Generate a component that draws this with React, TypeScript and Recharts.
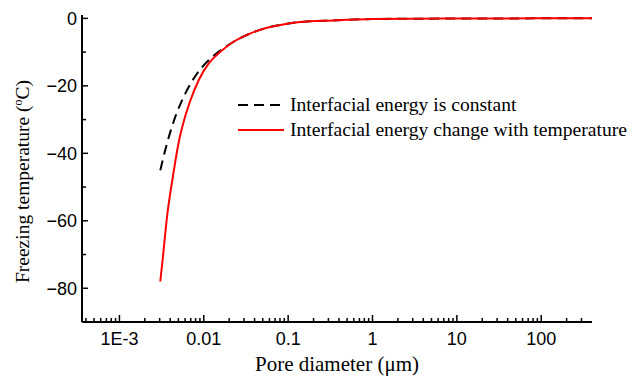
import React from 'react';
import { LineChart, Line, XAxis, YAxis, Legend } from 'recharts';

// pore diameter in µm, freezing temperature in °C
const constantDiameter = [0.00305, 0.00366, 0.00459, 0.00603, 0.0083, 0.0109, 0.0156, 0.0223, 0.0353, 0.0561, 0.0868, 0.138, 0.339, 1, 10, 100, 400];
const constantTemp = [-45, -37.1, -29.2, -22.3, -16.4, -12.9, -9.6, -7, -4.5, -2.8, -1.8, -1.1, -0.6, -0.2, -0.05, 0, 0];
const variableDiameter = [0.00305, 0.0033, 0.00366, 0.0042, 0.00459, 0.00502, 0.00575, 0.0069, 0.00866, 0.0114, 0.0156, 0.0223, 0.0353, 0.0561, 0.0868, 0.138, 0.339, 1, 10, 100, 400];
const variableTemp = [-78, -70, -59, -48.5, -42.5, -37, -30.8, -24.5, -18.4, -13.4, -10, -7, -4.5, -2.8, -1.8, -1.1, -0.6, -0.2, -0.05, 0, 0];

const xMajorTicks = [0.001, 0.01, 0.1, 1, 10, 100];
const xMinorTicks = [
  0.0004, 0.0005, 0.0006, 0.0007, 0.0008, 0.0009,
  0.002, 0.003, 0.004, 0.005, 0.006, 0.007, 0.008, 0.009,
  0.02, 0.03, 0.04, 0.05, 0.06, 0.07, 0.08, 0.09,
  0.2, 0.3, 0.4, 0.5, 0.6, 0.7, 0.8, 0.9,
  2, 3, 4, 5, 6, 7, 8, 9,
  20, 30, 40, 50, 60, 70, 80, 90,
  200, 300,
];
const xTickLabels = ['1E-3', '0.01', '0.1', '1', '10', '100'];
const yMajorTicks = [0, -20, -40, -60, -80];
const yMinorTicks = [-10, -30, -50, -70, -90];

const constantData = constantDiameter.map((d, i) => ({ d, t: constantTemp[i] }));
const variableData = variableDiameter.map((d, i) => ({ d, t: variableTemp[i] }));

const tickFont = '"Liberation Sans", Arial, sans-serif';
const titleFont = '"Liberation Serif", "Times New Roman", serif';

const XTick = (props: any) => {
  const { x, y, payload } = props;
  const idx = xMajorTicks.indexOf(payload.value);
  const major = idx >= 0;
  return (
    <g>
      <line x1={x} x2={x} y1={y} y2={y - (major ? 7 : 4)} stroke="#000" strokeWidth={1.5} />
      {major && (
        <text x={x} y={y + 23} textAnchor="middle" fontSize={18} fontFamily={tickFont} fill="#000">
          {xTickLabels[idx]}
        </text>
      )}
    </g>
  );
};

const YTick = (props: any) => {
  const { x, y, payload } = props;
  const major = yMajorTicks.includes(payload.value);
  return (
    <g>
      <line x1={x} x2={x + (major ? 6 : 4)} y1={y} y2={y} stroke="#000" strokeWidth={1.5} />
      {major && (
        <text x={x - 5} y={y} dy="0.36em" textAnchor="end" fontSize={18} fontFamily={tickFont} fill="#000">
          {String(payload.value).replace('-', '\u2212')}
        </text>
      )}
    </g>
  );
};

const YTitle = (props: any) => {
  const { viewBox } = props;
  const cx = 22;
  const cy = viewBox.y + viewBox.height / 2 + 13;
  return (
    <text
      x={cx}
      y={cy}
      transform={`rotate(-90 ${cx} ${cy})`}
      textAnchor="middle"
      dy="0.35em"
      fontSize={19.5}
      fontFamily={titleFont}
      fill="#000"
    >
      Freezing temperature (
      <tspan fontSize={12} dy={-7}>o</tspan>
      <tspan dy={7}>C)</tspan>
    </text>
  );
};

const XTitle = (props: any) => {
  const { viewBox } = props;
  return (
    <text
      x={viewBox.x + viewBox.width / 2}
      y={371}
      textAnchor="middle"
      fontSize={21}
      fontFamily={titleFont}
      fill="#000"
    >
      Pore diameter (μm)
    </text>
  );
};

const renderLegend = (props: any) => {
  const { payload } = props;
  return (
    <div style={{ fontFamily: titleFont, fontSize: 19.6, color: '#000', lineHeight: 1 }}>
      {payload.map((entry: any, i: number) => (
        <div key={i} style={{ display: 'flex', alignItems: 'center', height: 25 }}>
          <svg width={46} height={10} style={{ marginRight: 6 }}>
            <line
              x1={0}
              x2={46}
              y1={5}
              y2={5}
              stroke={entry.color}
              strokeWidth={2}
              strokeDasharray={entry.payload.strokeDasharray}
            />
          </svg>
          <span style={{ whiteSpace: 'nowrap' }}>{entry.value}</span>
        </div>
      ))}
    </div>
  );
};

export default function App() {
  return (
    <div style={{ position: 'absolute', left: 0, top: 0, background: '#fff' }}>
      <LineChart width={632} height={381} margin={{ top: 15, right: 40, left: 22, bottom: 29 }}>
        <XAxis
          dataKey="d"
          type="number"
          scale="log"
          domain={[0.00036, 400]}
          allowDataOverflow
          ticks={[...xMajorTicks, ...xMinorTicks]}
          interval={0}
          tick={XTick}
          tickLine={false}
          tickSize={0}
          tickMargin={0}
          height={30}
          axisLine={{ stroke: '#000', strokeWidth: 2 }}
          label={<XTitle />}
        />
        <YAxis
          type="number"
          domain={[-90, 1]}
          allowDataOverflow
          ticks={[...yMajorTicks, ...yMinorTicks]}
          interval={0}
          tick={YTick}
          tickLine={false}
          tickSize={0}
          tickMargin={0}
          width={60}
          axisLine={{ stroke: '#000', strokeWidth: 2 }}
          label={<YTitle />}
        />
        <Legend
          content={renderLegend}
          layout="vertical"
          align="center"
          verticalAlign="middle"
          itemSorter={(item: any) => (item.dataKey === 'constant' ? 0 : 1)}
          wrapperStyle={{ left: 238, top: 92, width: 400 }}
        />
        <Line
          data={constantData}
          type="monotone"
          dataKey="t"
          name="Interfacial energy is constant"
          stroke="#000"
          strokeWidth={2}
          strokeDasharray="10 6"
          dot={false}
          isAnimationActive={false}
          legendType="plainline"
        />
        <Line
          data={variableData}
          type="monotone"
          dataKey="t"
          name="Interfacial energy change with temperature"
          stroke="#ff0000"
          strokeWidth={2}
          dot={false}
          isAnimationActive={false}
          legendType="plainline"
        />
      </LineChart>
    </div>
  );
}
